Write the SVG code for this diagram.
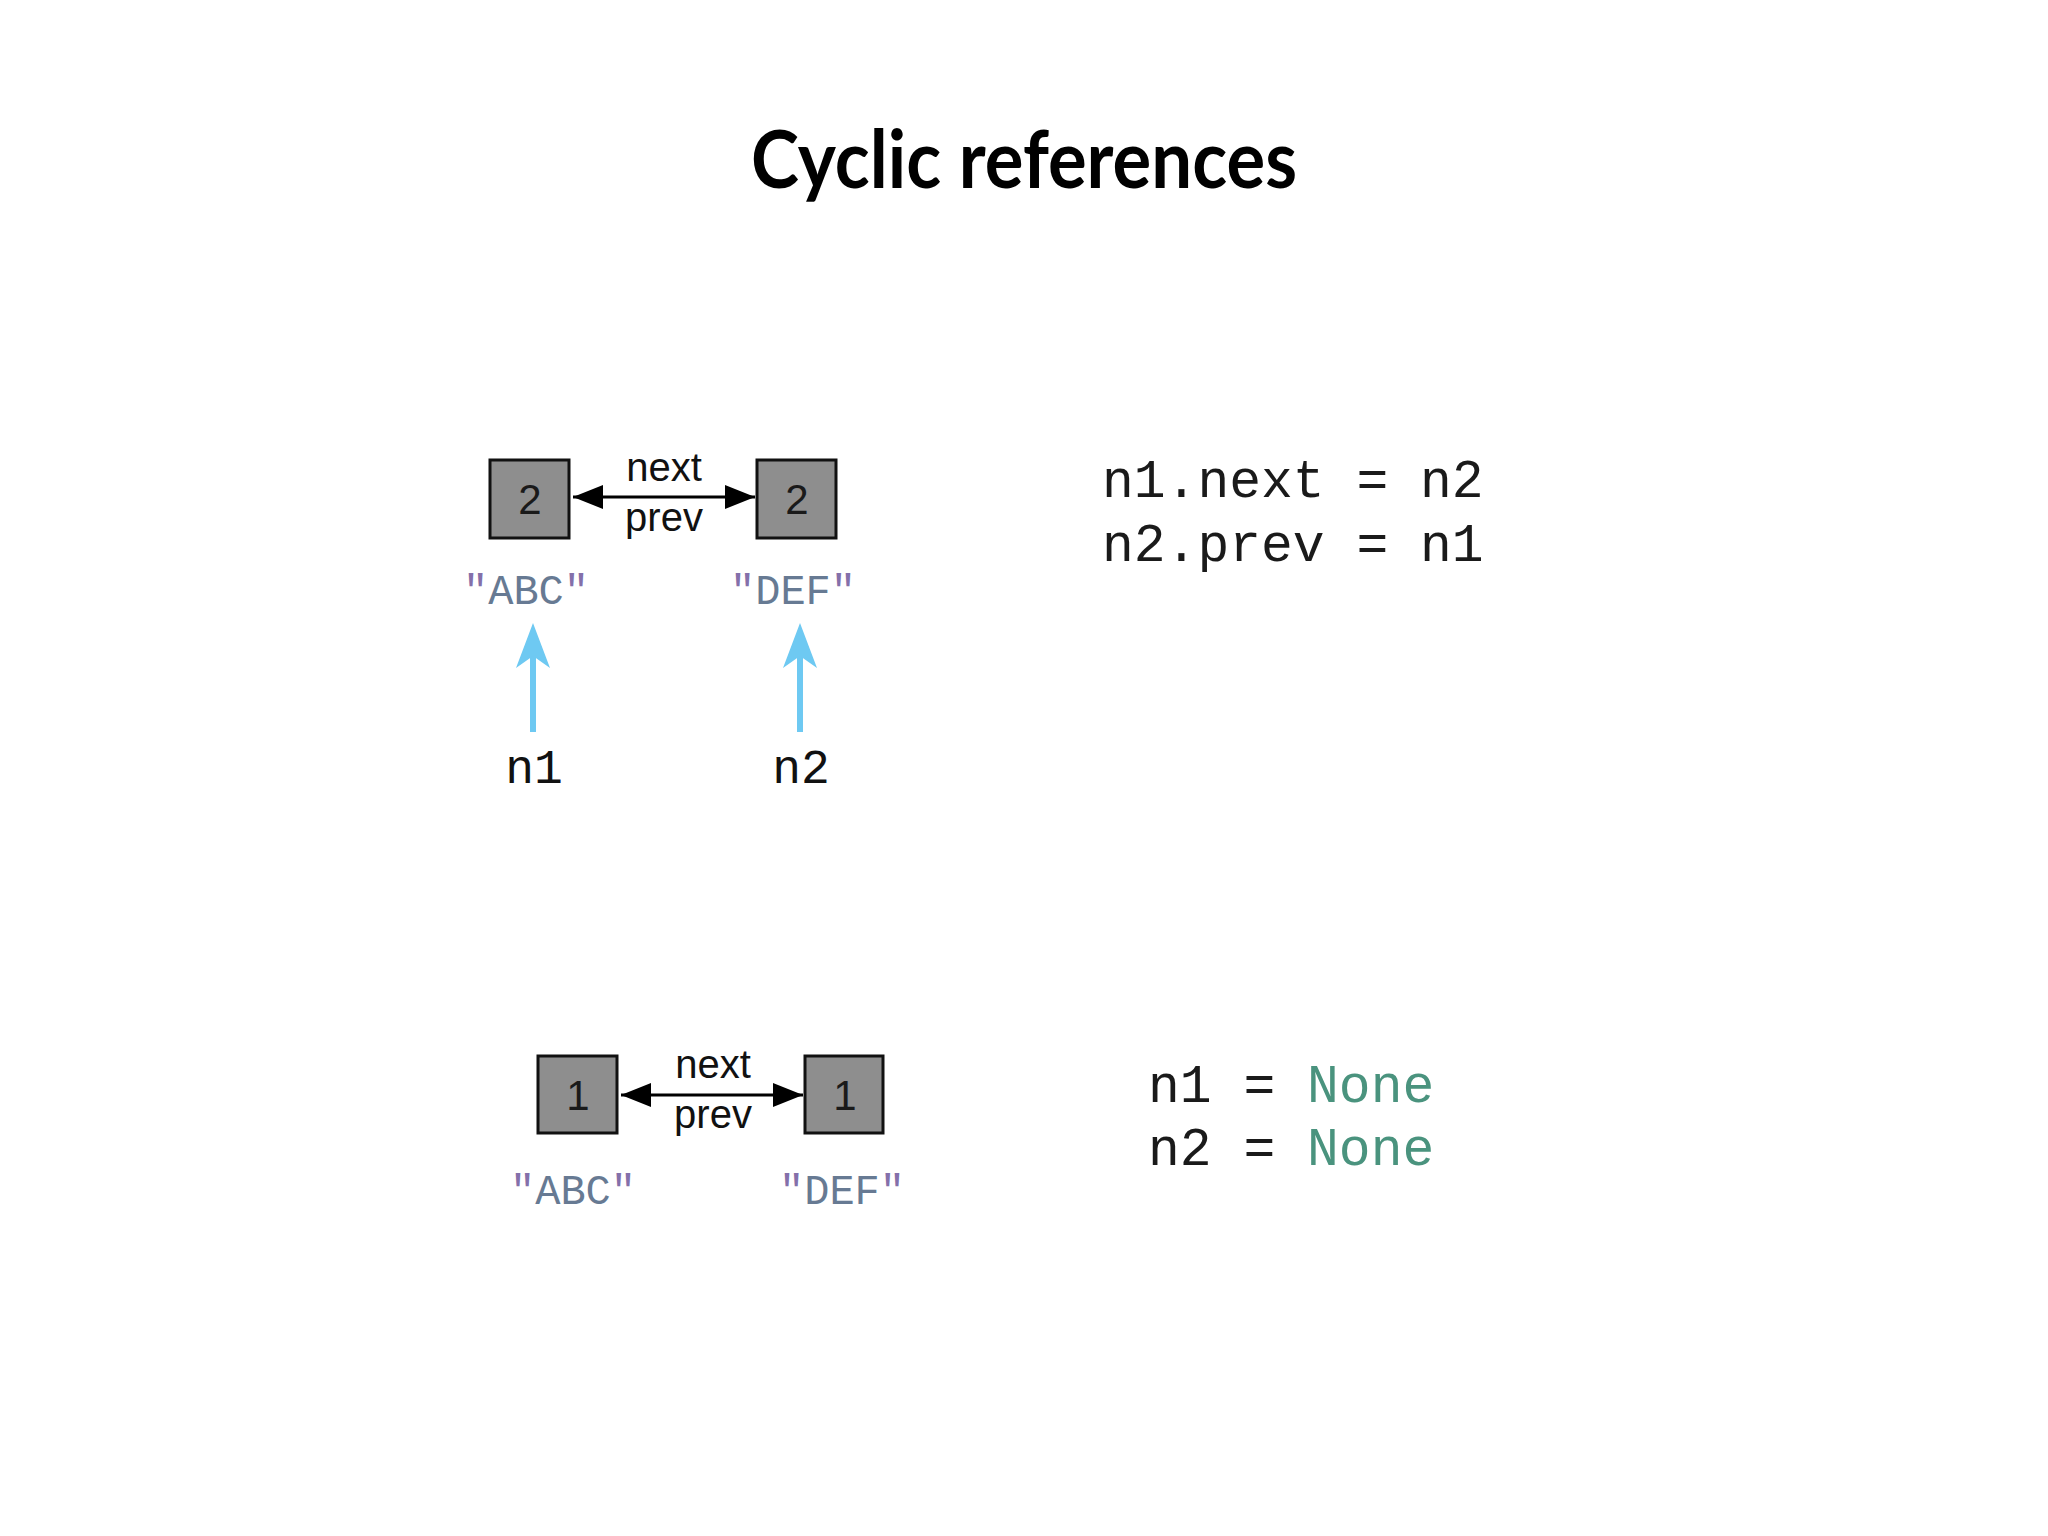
<svg xmlns="http://www.w3.org/2000/svg" width="2048" height="1536" viewBox="0 0 2048 1536">
<defs>
<style>
.title{font-family:Lato,"Liberation Sans",sans-serif;font-weight:bold;font-size:80px;fill:#000}
.box{fill:#8e8e8e;stroke:#111;stroke-width:3}
.cnt{font-family:"Liberation Sans",Arial,sans-serif;font-size:42px;fill:#1a1a1a;text-anchor:middle}
.lbl{font-family:"Liberation Sans",Arial,sans-serif;font-size:40px;fill:#111;text-anchor:middle}
.str{font-family:"Liberation Mono","Courier New",monospace;font-size:42px;fill:#677a93;text-anchor:middle}
.q{fill:#8470aa}
.var{font-family:"Liberation Mono","Courier New",monospace;font-size:48px;fill:#111;text-anchor:middle}
.code{font-family:"Liberation Mono","Courier New",monospace;font-size:53px;fill:#1a1a1a}
.none{fill:#4a937e}
.link{stroke:#000;stroke-width:3;fill:none;marker-start:url(#ah);marker-end:url(#ah)}
.ref{stroke:#6ec9f2;stroke-width:6;fill:none}
.refhead{fill:#6ec9f2}
</style>
<marker id="ah" viewBox="0 0 30 24" refX="30" refY="12" markerWidth="30" markerHeight="24" markerUnits="userSpaceOnUse" orient="auto-start-reverse">
<path d="M0,0 L30,12 L0,24 Z" fill="#000"/>
</marker>
</defs>
<rect width="2048" height="1536" fill="#ffffff"/>
<text class="title" x="1024" y="188" text-anchor="middle" textLength="546" lengthAdjust="spacingAndGlyphs">Cyclic references</text>

<g id="connectors">
<line class="link" x1="573" y1="497" x2="755" y2="497"/>
<line class="link" x1="621" y1="1095" x2="803" y2="1095"/>
<line class="ref" x1="533" y1="732" x2="533" y2="650"/>
<path class="refhead" d="M533,623 L550,668 L533,656 L516,668 Z"/>
<line class="ref" x1="800" y1="732" x2="800" y2="650"/>
<path class="refhead" d="M800,623 L817,668 L800,656 L783,668 Z"/>
</g>

<g id="top-node-abc">
<rect class="box" x="490" y="460" width="79" height="78"/>
<text class="cnt" x="530" y="514">2</text>
<text class="str" x="526" y="604"><tspan class="q">"</tspan>ABC<tspan class="q">"</tspan></text>
</g>
<g id="top-node-def">
<rect class="box" x="757" y="460" width="79" height="78"/>
<text class="cnt" x="797" y="514">2</text>
<text class="str" x="793" y="604"><tspan class="q">"</tspan>DEF<tspan class="q">"</tspan></text>
</g>
<g id="top-labels">
<text class="lbl" x="664" y="481">next</text>
<text class="lbl" x="664" y="531">prev</text>
</g>
<g id="var-n1"><text class="var" x="534" y="783">n1</text></g>
<g id="var-n2"><text class="var" x="801" y="783">n2</text></g>

<g id="code-top">
<text class="code" x="1102" y="497">n1.next = n2</text>
<text class="code" x="1102" y="561">n2.prev = n1</text>
</g>

<g id="bottom-node-abc">
<rect class="box" x="538" y="1056" width="79" height="77"/>
<text class="cnt" x="578" y="1110">1</text>
<text class="str" x="573" y="1204"><tspan class="q">"</tspan>ABC<tspan class="q">"</tspan></text>
</g>
<g id="bottom-node-def">
<rect class="box" x="805" y="1056" width="78" height="77"/>
<text class="cnt" x="845" y="1110">1</text>
<text class="str" x="842" y="1204"><tspan class="q">"</tspan>DEF<tspan class="q">"</tspan></text>
</g>
<g id="bottom-labels">
<text class="lbl" x="713" y="1078">next</text>
<text class="lbl" x="713" y="1128">prev</text>
</g>

<g id="code-bottom">
<text class="code" x="1148" y="1102">n1 = <tspan class="none">None</tspan></text>
<text class="code" x="1148" y="1165">n2 = <tspan class="none">None</tspan></text>
</g>
</svg>
